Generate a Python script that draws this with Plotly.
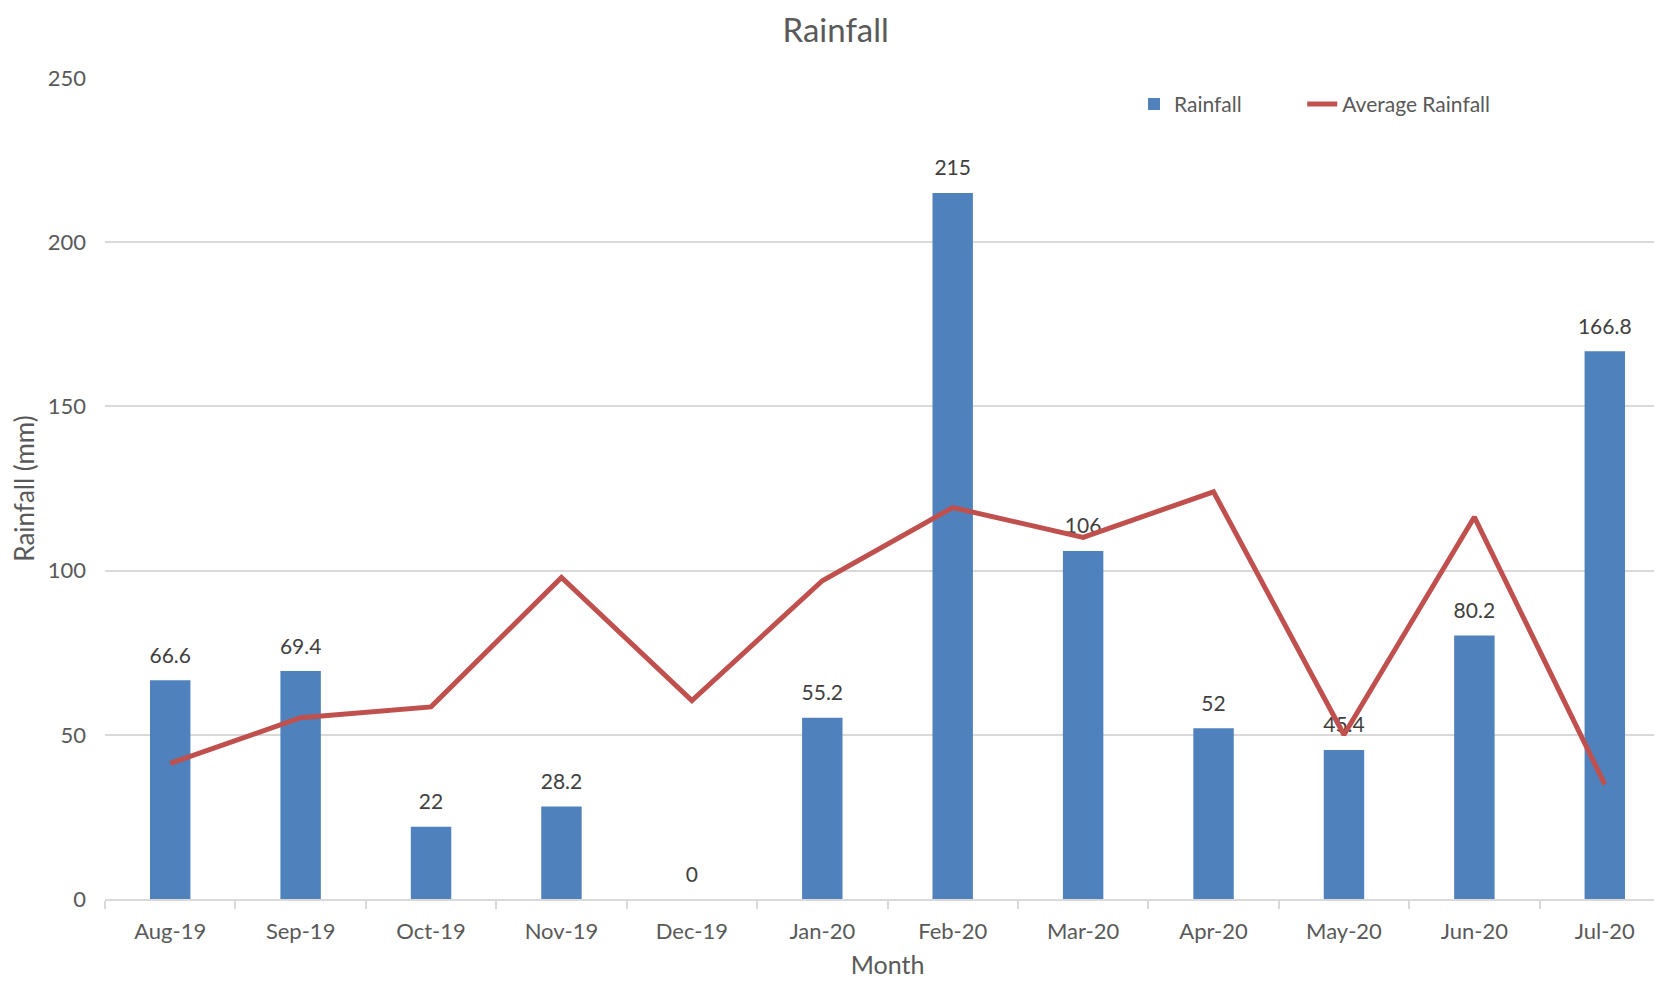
import plotly.graph_objects as go

months = ["Aug-19", "Sep-19", "Oct-19", "Nov-19", "Dec-19", "Jan-20",
          "Feb-20", "Mar-20", "Apr-20", "May-20", "Jun-20", "Jul-20"]
rainfall = [66.6, 69.4, 22, 28.2, 0, 55.2, 215, 106, 52, 45.4, 80.2, 166.8]
average_rainfall = [41.3, 55.2, 58.5, 97.9, 60.4, 96.9, 119.2, 110.1, 124.0, 50.0, 116.3, 34.9]
y_ticks = [0, 50, 100, 150, 200, 250]

FONT = "Lato"
GRAY = "#595959"
BAR_COLOR = "#4f81bd"
LINE_COLOR = "#c0504d"
GRID = "#d9d9d9"

fig = go.Figure()

fig.add_trace(go.Bar(
    x=months, y=rainfall, name="Rainfall",
    marker=dict(color=BAR_COLOR, line=dict(width=0)),
    hoverinfo="x+y", legend="legend",
))

# data labels (drawn beneath the line, as in the reference)
fig.add_trace(go.Scatter(
    x=months, y=rainfall, mode="markers+text",
    text=[f"{v:g}" for v in rainfall], textposition="top center",
    textfont=dict(family=FONT, size=21, color="#404040"),
    marker=dict(size=18, color="rgba(0,0,0,0)"),
    showlegend=False, hoverinfo="skip",
))

fig.add_trace(go.Scatter(
    x=months, y=average_rainfall, name="Average Rainfall", mode="lines",
    line=dict(color=LINE_COLOR, width=5), legend="legend2",
))

legend_style = dict(orientation="h", yanchor="middle", xanchor="left", y=0.968,
                    font=dict(family=FONT, size=21, color=GRAY),
                    bgcolor="rgba(0,0,0,0)")

fig.update_layout(
    width=1662, height=982,
    margin=dict(l=97, r=0, t=70, b=91, autoexpand=False),
    paper_bgcolor="white", plot_bgcolor="white",
    font=dict(family=FONT, size=21, color=GRAY),
    title=dict(text="Rainfall", x=0.498, xref="container", xanchor="center",
               y=1 - 22 / 982, yref="container", yanchor="middle",
               font=dict(family=FONT, size=33, color=GRAY)),
    bargap=0.69,
    legend=dict(x=0.6575, **legend_style),
    legend2=dict(x=0.765, **legend_style),
    showlegend=True,
)

fig.update_xaxes(
    type="category", range=[-0.5, 11.5],
    showline=True, linecolor=GRID, linewidth=2,
    ticks="outside", tickson="boundaries", tickcolor=GRID, ticklen=8, tickwidth=2,
    ticklabelstandoff=12,
    tickfont=dict(family=FONT, size=22, color=GRAY),
    showgrid=False,
    title=dict(text="Month", font=dict(family=FONT, size=25, color=GRAY), standoff=13),
)

fig.update_yaxes(
    range=[0, 250], tickvals=y_ticks,
    showgrid=True, gridcolor=GRID, gridwidth=2,
    zeroline=False, showline=False,
    ticklabelstandoff=18,
    tickfont=dict(family=FONT, size=22, color=GRAY),
    title=dict(text="Rainfall (mm)", font=dict(family=FONT, size=26, color=GRAY), standoff=8),
)

fig.write_html("out.html")
